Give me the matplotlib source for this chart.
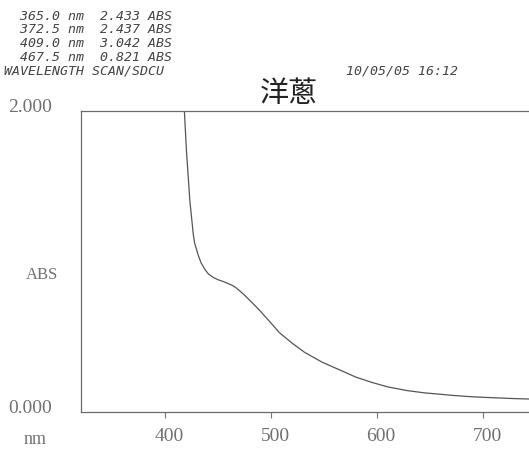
import numpy as np
import matplotlib.pyplot as plt
import matplotlib.transforms as mtransforms

# UV-Vis scan of onion extract
wavelength = [365.0, 372.5, 409.0, 413, 416, 418.3, 420.3, 423.5, 426.7, 428,
              431.4, 434, 437.7, 441, 445.6, 450, 455, 460, 464, 467.5,
              471, 475, 480, 485, 490, 498, 508, 520, 531.6, 548,
              566.6, 580, 595, 610, 628.7, 645, 656.4, 672, 687.8, 702,
              716, 730, 745]
absorbance = [2.433, 2.437, 3.042, 2.6, 2.25, 2.00, 1.73, 1.40, 1.18, 1.12,
              1.04, 0.99, 0.945, 0.915, 0.892, 0.877, 0.865, 0.85, 0.838, 0.821,
              0.80, 0.775, 0.74, 0.705, 0.668, 0.605, 0.525, 0.455, 0.395, 0.33,
              0.272, 0.23, 0.195, 0.165, 0.14, 0.125, 0.118, 0.108, 0.10, 0.095,
              0.091, 0.087, 0.084]

peaks = ["  365.0 nm  2.433 ABS",
         "  372.5 nm  2.437 ABS",
         "  409.0 nm  3.042 ABS",
         "  467.5 nm  0.821 ABS",
         "WAVELENGTH SCAN/SDCU"]
stamp = "10/05/05 16:12"
title = "洋蔥"

xticks = [400, 500, 600, 700]
xlabels = ["400", "500", "600", "700"]
yticks = [0.0, 2.0]
ylabels = ["0.000", "2.000"]

W, H = 529, 459
def fx(px):
    return px / W
def fy(py):
    return 1 - py / H

fig = plt.figure(figsize=(W / 100, H / 100), dpi=100)
fig.patch.set_facecolor("white")
ax = fig.add_axes([fx(81), fy(411.7), 1 - fx(81), (411.7 - 110.7) / H])

ax.plot(wavelength, absorbance, color="#555555", lw=0.9)
ax.set_xlim(320.8, 743.4)
ax.set_ylim(0, 2)

ax.spines["right"].set_visible(False)
for s in ["left", "top", "bottom"]:
    ax.spines[s].set_color("#6a6a6a")
    ax.spines[s].set_linewidth(0.9)

serif = "Liberation Serif"
ax.set_xticks(xticks, xlabels)
ax.tick_params(axis="x", direction="out", length=4.5, width=0.8, color="#777777",
               pad=7, labelsize=14, labelcolor="#707070")
ax.set_yticks(yticks, ylabels)
ax.tick_params(axis="y", length=0, pad=21, labelsize=14, labelcolor="#707070")
for lab in ax.get_xticklabels() + ax.get_yticklabels():
    lab.set_family(serif)
shift = mtransforms.ScaledTranslation(0, 5 / 100, fig.dpi_scale_trans)
for lab in ax.get_yticklabels():
    lab.set_transform(lab.get_transform() + shift)
shift_x = mtransforms.ScaledTranslation(4 / 100, 0, fig.dpi_scale_trans)
for lab in ax.get_xticklabels():
    lab.set_transform(lab.get_transform() + shift_x)

ax.set_ylabel("ABS", rotation=0, fontsize=12, color="#707070", family=serif,
              va="center", ha="center")
ax.yaxis.set_label_coords(-0.088, 0.455)
ax.set_xlabel("nm", fontsize=13, color="#707070", family=serif, va="center")
ax.xaxis.set_label_coords(-0.103, -0.094)

# printer header
mono = dict(family="DejaVu Sans Mono", style="italic", fontsize=9.5, color="#444444")
for i, line in enumerate(peaks):
    fig.text(fx(4), fy(16 + 13.7 * i), line, va="center", ha="left", **mono)
fig.text(fx(346), fy(70.5), stamp, va="center", ha="left", **mono)

fig.text(fx(288.5), fy(94), title, ha="center", va="center", fontsize=21,
         family=["Noto Sans CJK TC", "DejaVu Sans"], color="#222222")

fig.savefig("out.png", dpi=100)
